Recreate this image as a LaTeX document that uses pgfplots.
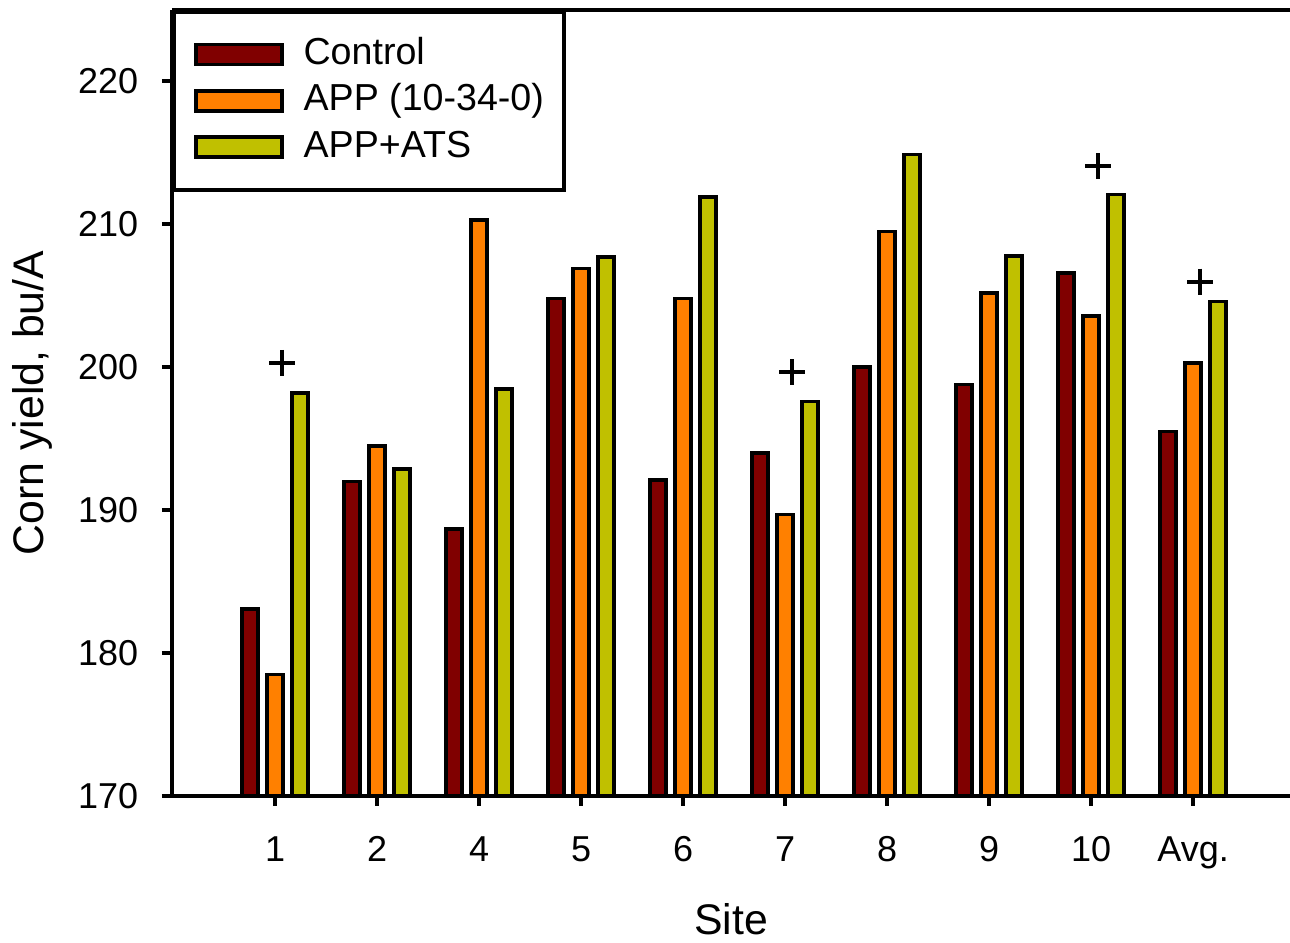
\documentclass[border=0pt]{standalone}
\usepackage{pgfplots}
\pgfplotsset{compat=1.18}
\usepackage{pgfplotstable}
\usepackage{fontspec}
\setmainfont{Liberation Sans}
\usetikzlibrary{calc}
\definecolor{cctrl}{RGB}{128,0,0}
\definecolor{capp}{RGB}{255,128,0}
\definecolor{cats}{RGB}{192,192,0}

\pgfplotstableread{
x ctrl app ats
0 183.1 178.5 198.2
1 192.0 194.5 192.9
2 188.7 210.3 198.5
3 204.8 206.9 207.7
4 192.1 204.8 211.9
5 194.0 189.7 197.6
6 200.0 209.5 214.9
7 198.8 205.2 207.8
8 206.6 203.6 212.1
9 195.5 200.3 204.6
}\yieldtable

\begin{document}
\begin{tikzpicture}
\begin{axis}[
  scale only axis,
  width=279.5pt, height=196.5pt,
  xmin=-1.01, xmax=9.95,
  ymin=170, ymax=225,
  axis x line*=box, axis y line*=left,
  xtick={0,...,9}, xticklabels={1,2,4,5,6,7,8,9,10,Avg.},
  ytick={170,180,...,220},
  xtick pos=left, ytick pos=left,
  tick align=outside,
  major tick length=2.5pt,
  every tick/.style={black, line width=1pt},
  axis line style={line width=1pt},
  tick label style={font=\fontsize{9}{10}\selectfont},
  /pgf/number format/assume math mode=true,
  yticklabel style={xshift=-2.4pt},
  xticklabel style={yshift=-4.1pt},
  label style={font=\fontsize{10.7}{12}\selectfont},
  xlabel={Site}, ylabel={Corn yield, bu/A},
  xlabel style={at={(axis description cs:0.5,-0.1768)}, anchor=base},
  ylabel style={at={(axis description cs:-0.1145,0.5)}, anchor=base},
  legend cell align=left,
  legend style={at={(0,1)}, anchor=north west, draw=black, line width=1pt, fill=white,
    inner xsep=5pt, inner ysep=6.2pt, font=\fontsize{9.4}{11}\selectfont,
    row sep=2.8pt, nodes={inner sep=0pt, text height=6.9pt, text depth=1.9pt},
    /tikz/every odd column/.append style={column sep=5pt}},
  legend image code/.code={\draw[#1] (-0.5pt,-2.5pt) rectangle (21pt,2.5pt);},
]
\addplot[ybar, bar width=4pt, bar shift=-6.25pt, fill=cctrl, draw=black, line width=0.9pt] table[x=x, y=ctrl] {\yieldtable};
\addlegendentry{Control}
\addplot[ybar, bar width=4pt, bar shift=0pt, fill=capp, draw=black, line width=0.9pt] table[x=x, y=app] {\yieldtable};
\addlegendentry{APP (10-34-0)}
\addplot[ybar, bar width=4pt, bar shift=6.25pt, fill=cats, draw=black, line width=0.9pt] table[x=x, y=ats] {\yieldtable};
\addlegendentry{APP+ATS}
\addplot[only marks, mark=+, mark size=3.25pt, mark options={line width=1pt, black}, forget plot]
  coordinates {(0.07,200.3) (5.07,199.65) (8.07,214.05) (9.07,206.0)};
\end{axis}
\pgfresetboundingbox
\path[use as bounding box] ($(current axis.south west)+(-43pt,-36.75pt)$) rectangle ($(current axis.north east)+(0pt,2.5pt)$);
\end{tikzpicture}
\end{document}
